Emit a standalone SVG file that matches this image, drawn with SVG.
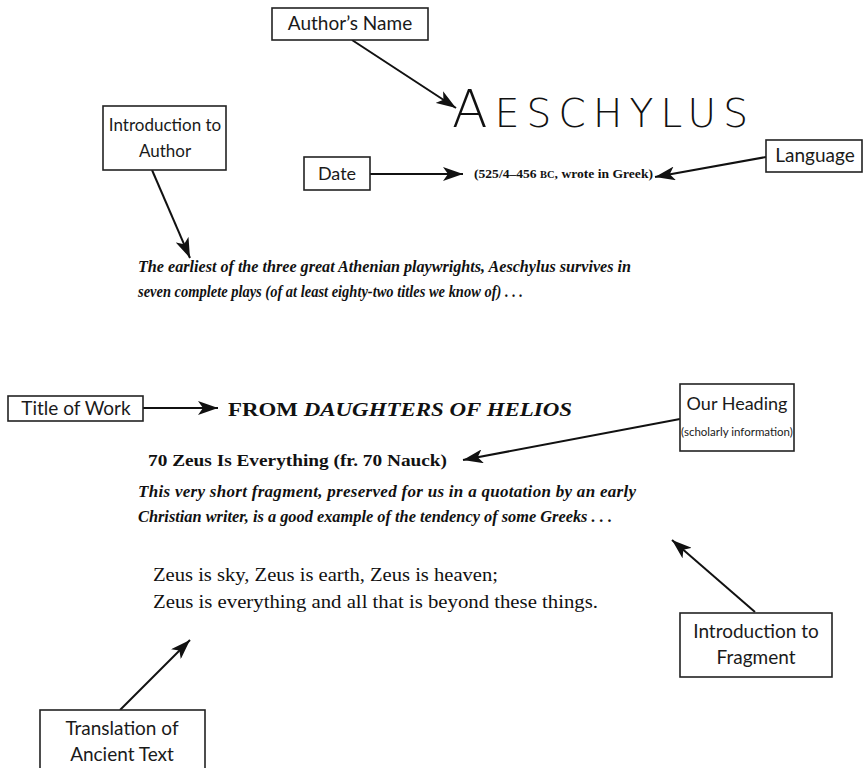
<svg xmlns="http://www.w3.org/2000/svg" width="864" height="768" viewBox="0 0 864 768">
<defs>
<marker id="ah" markerUnits="userSpaceOnUse" markerWidth="22" markerHeight="14" refX="20" refY="7" orient="auto">
<path d="M0,0 L20,7 L0,14 L5,7 z" fill="#111"/>
</marker>
<style>
.box{fill:#fff;stroke:#222;stroke-width:1.6}
.lbl{font-family:Lato,"Open Sans",sans-serif;font-size:18px;fill:#1a1a1a;text-anchor:middle}
.con{stroke:#111;stroke-width:2;fill:none;marker-end:url(#ah)}
.body{font-family:"Liberation Serif",serif;fill:#111}
.it{font-style:italic;font-size:17px;font-weight:bold}
</style>
</defs>
<rect width="864" height="768" fill="#fff"/>

<g id="connectors">
<line class="con" x1="352" y1="40" x2="456" y2="108"/>
<line class="con" x1="152" y1="170" x2="190" y2="258"/>
<line class="con" x1="370" y1="174" x2="463" y2="174"/>
<line class="con" x1="766" y1="157" x2="655" y2="177"/>
<line class="con" x1="143" y1="408" x2="218" y2="408"/>
<line class="con" x1="680" y1="419" x2="463" y2="460"/>
<line class="con" x1="755" y1="612" x2="672" y2="540"/>
<line class="con" x1="120" y1="710" x2="190" y2="640"/>
</g>

<g id="author-name">
<rect class="box" x="272" y="8" width="156" height="32"/>
<text class="lbl" x="350" y="30" style="font-size:19px">Author’s Name</text>
</g>

<g id="intro-author">
<rect class="box" x="103" y="106" width="123" height="64"/>
<text class="lbl" x="165" y="131" style="font-size:17px">Introduction to</text>
<text class="lbl" x="165" y="157" style="font-size:17px">Author</text>
</g>

<g id="date">
<rect class="box" x="304" y="157" width="66" height="33"/>
<text class="lbl" x="337" y="180">Date</text>
</g>

<g id="language">
<rect class="box" x="766" y="140" width="96" height="32"/>
<text class="lbl" x="815" y="162" style="font-size:19px">Language</text>
</g>

<g id="title-of-work">
<rect class="box" x="8" y="396" width="135" height="25"/>
<text class="lbl" x="76" y="415" style="font-size:19px">Title of Work</text>
</g>

<g id="our-heading">
<rect class="box" x="680" y="384" width="114" height="67"/>
<text class="lbl" x="737" y="410">Our Heading</text>
<text class="lbl" x="737" y="436" style="font-size:11.5px">(scholarly information)</text>
</g>

<g id="intro-fragment">
<rect class="box" x="680" y="613" width="152" height="64"/>
<text class="lbl" x="756" y="638" style="font-size:19px">Introduction to</text>
<text class="lbl" x="756" y="664" style="font-size:19px">Fragment</text>
</g>

<g id="translation">
<rect class="box" x="40" y="710" width="165" height="62"/>
<text class="lbl" x="122" y="735" style="font-size:19px">Translation of</text>
<text class="lbl" x="122" y="761" style="font-size:19px">Ancient Text</text>
</g>

<g id="page-text">
<text x="452" y="127" textLength="296" lengthAdjust="spacing" style="font-family:'DejaVu Sans',sans-serif;font-weight:200;fill:#111;font-size:39px"><tspan style="font-size:52px">A</tspan>ESCHYLUS</text>
<text class="body" x="474" y="178" textLength="179" lengthAdjust="spacingAndGlyphs" style="font-size:13px;font-weight:bold">(525/4–456 <tspan style="font-size:10px">BC</tspan>, wrote in Greek)</text>
<text class="body it" x="138" y="272" textLength="493" lengthAdjust="spacingAndGlyphs">The earliest of the three great Athenian playwrights, Aeschylus survives in</text>
<text class="body it" x="138" y="297" textLength="385" lengthAdjust="spacingAndGlyphs">seven complete plays (of at least eighty-two titles we know of) . . .</text>
<text class="body" x="228" y="416" textLength="344" lengthAdjust="spacingAndGlyphs" style="font-size:19px;font-weight:bold">FROM <tspan font-style="italic">DAUGHTERS OF HELIOS</tspan></text>
<text class="body" x="148" y="466" textLength="299" lengthAdjust="spacingAndGlyphs" style="font-size:16px;font-weight:bold">70  Zeus Is Everything (fr. 70 Nauck)</text>
<text class="body it" x="138" y="497" textLength="498" lengthAdjust="spacing">This very short fragment, preserved for us in a quotation by an early</text>
<text class="body it" x="138" y="522" textLength="474" lengthAdjust="spacingAndGlyphs">Christian writer, is a good example of the tendency of some Greeks . . .</text>
<text class="body" x="153" y="581" textLength="345" lengthAdjust="spacingAndGlyphs" style="font-size:18px">Zeus is sky, Zeus is earth, Zeus is heaven;</text>
<text class="body" x="153" y="608" textLength="445" lengthAdjust="spacingAndGlyphs" style="font-size:18px">Zeus is everything and all that is beyond these things.</text>
</g>
</svg>
